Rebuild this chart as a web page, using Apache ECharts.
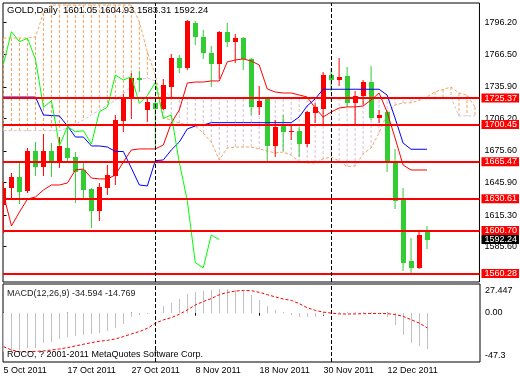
<!DOCTYPE html>
<html><head><meta charset="utf-8">
<script src="https://cdn.jsdelivr.net/npm/echarts@6/dist/echarts.min.js"></script>
<style>html,body{margin:0;padding:0;background:#fff}#c{width:520px;height:380px}</style>
</head><body><div id="c"></div>
<script>
// ---- data (bar index 0 = 5 Oct 2011, daily bars) ----
const dateTicks  = [0, 8, 16, 24, 32, 40, 48];
const dateLabels = ['5 Oct 2011','17 Oct 2011','27 Oct 2011','8 Nov 2011','18 Nov 2011','30 Nov 2011','12 Dec 2011'];
const monthStarts = [19, 41]; // 1 Nov 2011, 1 Dec 2011

const open  = [1624.8,1640.5,1651.4,1638.2,1675.9,1660.8,1675.9,1665.5,1678.7,1669.6,1657.7,1639.5,1619.4,1641.1,1652.4,1704.1,1724.5,1743.9,1714.1,1721.0,1714.8,1736.0,1762.7,1753.3,1796.2,1782.5,1767.4,1757.4,1787.2,1778.3,1782.1,1761.8,1716.7,1724.2,1680.6,1699.1,1693.4,1694.4,1682.1,1711.6,1715.1,1747.0,1742.3,1746.1,1720.4,1727.3,1740.2,1706.3,1712.5,1664.9,1629.5,1572.2,1565.3,1601.05];
const high  = [1646.4,1655.2,1666.2,1678.1,1684.3,1691.6,1683.4,1689.0,1696.9,1674.9,1664.0,1640.5,1645.2,1662.4,1709.4,1729.2,1749.2,1751.1,1725.1,1724.2,1743.0,1766.8,1765.8,1798.5,1798.1,1789.3,1774.3,1788.7,1795.6,1785.6,1783.0,1762.7,1736.7,1725.1,1704.7,1709.4,1699.1,1698.4,1713.5,1720.4,1750.1,1753.3,1762.7,1754.3,1732.3,1742.3,1755.5,1714.1,1714.1,1677.2,1640.5,1593.5,1599.7,1604.93];
const low   = [1598.5,1631.1,1625.7,1635.8,1652.1,1652.1,1651.4,1659.3,1664.0,1626.4,1629.5,1602.9,1610.0,1634.2,1643.6,1693.7,1705.4,1731.3,1703.1,1678.1,1714.1,1726.6,1748.6,1751.7,1775.2,1761.8,1735.5,1743.0,1773.6,1758.6,1751.7,1709.4,1709.4,1665.5,1670.2,1675.9,1686.0,1670.2,1679.6,1702.2,1701.0,1732.3,1736.7,1717.2,1700.0,1718.8,1704.7,1702.2,1656.1,1621.0,1563.0,1559.6,1564.3,1583.31];
const close = [1640.8,1651.4,1637.3,1675.9,1660.8,1675.9,1666.5,1680.3,1669.3,1656.1,1638.9,1619.4,1641.4,1653.0,1704.7,1726.1,1744.5,1742.3,1721.9,1714.8,1737.6,1762.7,1753.3,1798.1,1782.5,1767.4,1757.4,1787.7,1778.3,1781.5,1761.8,1716.7,1722.9,1680.6,1698.4,1693.7,1694.6,1682.1,1712.5,1716.7,1747.0,1742.3,1745.4,1720.4,1727.6,1740.2,1706.3,1709.4,1664.9,1628.8,1570.5,1565.8,1596.6,1592.24];

const tenkan = [1634.5,1605.1,1618.2,1630.4,1632.3,1638.9,1643.6,1643.6,1645.5,1657.7,1658.6,1650.2,1649.3,1649.3,1653.0,1665.2,1676.5,1677.5,1677.5,1677.5,1681.2,1701.9,1714.1,1739.5,1740.4,1740.4,1741.4,1741.4,1759.3,1761.1,1762.1,1760.2,1756.4,1733.9,1731.0,1730.1,1730.1,1728.2,1726.3,1716.0,1707.5,1712.2,1716.0,1717.0,1717.0,1717.9,1723.5,1730.1,1712.2,1687.8,1662.4,1657.7,1657.7,1657.7];
const kijun  = [1726.3,1726.3,1726.3,1726.3,1726.3,1709.4,1708.9,1708.5,1699.1,1688.7,1688.7,1680.3,1680.3,1679.3,1675.1,1675.1,1659.5,1643.6,1642.7,1666.5,1667.1,1676.5,1684.0,1696.3,1699.1,1700.0,1702.2,1702.2,1702.2,1702.2,1702.2,1702.2,1702.2,1702.2,1702.2,1702.2,1702.2,1707.5,1717.9,1724.5,1733.6,1733.6,1733.6,1733.6,1733.6,1733.6,1733.6,1733.6,1728.2,1706.6,1683.1,1677.2,1677.2,1677.2];
// Senkou spans (already shifted forward, index = bar slot, up to slot 59)
const spanA = [1781.8,1781.8,1781.8,1781.8,1782.8,1805.3,1812.8,1812.8,1812.8,1812.8,1812.8,1812.8,1812.8,1812.8,1812.8,1812.8,1812.8,1796.9,1768.7,1747.0,1706.6,1704.7,1701.9,1700.0,1699.1,1692.5,1684.0,1667.1,1678.4,1679.3,1679.3,1679.3,1677.5,1675.6,1673.7,1674.6,1671.8,1665.2,1664.3,1664.3,1668.1,1670.0,1666.2,1661.0,1661.5,1672.8,1678.4,1692.5,1710.4,1718.8,1720.7,1720.9,1723.1,1726.3,1731.3,1733.4,1735.7,1730.1,1728.2,1716.9];
const spanB = [1694.7,1694.7,1694.7,1694.7,1694.7,1694.7,1694.7,1694.7,1697.2,1700.9,1704.7,1709.4,1714.1,1718.8,1723.5,1729.2,1736.7,1742.3,1744.2,1741.4,1732.9,1725.7,1725.7,1725.7,1725.7,1725.7,1725.7,1725.7,1725.7,1725.7,1725.7,1725.7,1725.7,1725.7,1725.7,1725.7,1725.7,1725.7,1725.7,1725.7,1725.7,1725.7,1725.7,1725.7,1725.7,1725.7,1725.7,1725.7,1725.7,1725.7,1725.7,1725.7,1725.7,1725.7,1725.7,1725.7,1725.7,1708.5,1708.5,1708.5];

const macdMain   = [-37.4,-37.4,-35.8,-34.2,-33.5,-29.4,-27.8,-25.5,-22.9,-22.3,-21.3,-20.4,-19.1,-17.2,-14.9,-10.8,-3.7,-2.1,-1.2,0.8,6.5,9.7,12.9,18.1,19.4,21.0,22.0,22.6,22.6,22.0,20.4,17.1,12.3,6.2,2.6,0.3,-2.1,-4.4,-4.4,-4.4,-1.8,-0.5,0.6,0.3,0.5,0.6,0.3,-0.5,-4.4,-11.7,-21.3,-29.4,-31.6,-34.594];
const macdSignal = [-32.6,-35.8,-37.4,-37.4,-37.1,-36.7,-35.8,-34.8,-33.5,-31.9,-30.3,-28.7,-27.4,-26.5,-25.2,-22.9,-20.4,-18.1,-14.9,-10.1,-6.9,-4.7,-1.5,2.7,7.5,10.7,13.6,17.2,19.4,20.7,21.3,21.0,19.4,17.2,15.0,13.0,11.7,8.5,4.6,2.1,0.5,-0.5,-1.2,-1.3,-1.2,-1.0,-0.8,-0.8,-1.0,-1.8,-3.7,-6.9,-10.1,-14.769];

const levels     = [1725.37, 1700.45, 1665.47, 1630.61, 1600.70, 1560.28];
const priceTicks = [1796.20, 1766.50, 1735.90, 1706.20, 1675.60, 1645.90, 1615.30, 1585.60];
const macdTicks      = [27.447, 0, -47.3];
const macdTickLabels = ['27.447', '0.00', '-47.3'];

const symbolName = 'GOLD,Daily';
const copyright = 'ROCO, ? 2001-2011 MetaQuotes Software Corp.';

// ---- chart ----
const FONT = '"Liberation Sans", Arial, sans-serif';
const last = close.length - 1;
const titleText = symbolName + '  ' + [open[last], high[last], low[last], close[last]].map(v => v.toFixed(2)).join(' ');
const macdText = 'MACD(12,26,9) ' + macdMain[last].toFixed(3) + ' ' + macdSignal[last].toFixed(3);
const X_MIN = -0.0625, X_MAX = 59.5625;

function renderCandle(params, api) {
  const k = api.value(0), o = api.value(1), c = api.value(2), l = api.value(3), h = api.value(4);
  const pO = api.coord([k, o]), pC = api.coord([k, c]), pL = api.coord([k, l]), pH = api.coord([k, h]);
  const x = pO[0];
  const color = c >= o ? '#FF0000' : '#32CD32';
  const top = Math.round(Math.min(pO[1], pC[1]));
  const bot = Math.round(Math.max(pO[1], pC[1]));
  const bw = 5;
  return { type: 'group', children: [
    { type: 'line', shape: { x1: x, y1: Math.round(pH[1]), x2: x, y2: Math.round(pL[1]) }, style: { stroke: color, lineWidth: 1 } },
    { type: 'rect', shape: { x: Math.round(x - bw / 2), y: top, width: bw, height: Math.max(bot - top, 1) }, style: { fill: color } }
  ]};
}
function renderCloud(params, api) {
  const k = api.value(0), a = api.value(1), b = api.value(2);
  const pA = api.coord([k, a]), pB = api.coord([k, b]);
  return { type: 'line', shape: { x1: pA[0], y1: pA[1], x2: pB[0], y2: pB[1] },
    style: { stroke: a >= b ? '#F4A460' : '#D8BFD8', lineWidth: 1, lineDash: [3, 2] } };
}
function renderHist(params, api) {
  const k = api.value(0), v = api.value(1);
  const p0 = api.coord([k, 0]), p1 = api.coord([k, v]);
  return { type: 'line', shape: { x1: p0[0], y1: Math.round(p0[1]), x2: p1[0], y2: Math.round(p1[1]) },
    style: { stroke: '#C0C0C0', lineWidth: 1 } };
}
const lineS = (data, color, dash, z) => ({
  type: 'line', data, showSymbol: false, symbol: 'none', silent: true, z,
  lineStyle: { color, width: 1, type: dash || 'solid' }, xAxisIndex: 0, yAxisIndex: 0
});
const levelLabel = { show: true, position: 'end', distance: 2, color: '#fff', backgroundColor: '#FF0000',
  fontFamily: FONT, fontSize: 9, lineHeight: 9, padding: [0, 2, 0, 3], formatter: p => Number(p.value).toFixed(2) };

const chart = echarts.init(document.getElementById('c'), null, { renderer: 'canvas' });
chart.setOption({
  animation: false,
  backgroundColor: '#fff',
  textStyle: { fontFamily: FONT },
  title: [
    { text: titleText, left: 7, top: 5, padding: 0, textStyle: { fontSize: 9.5, fontWeight: 'normal', color: '#000', fontFamily: FONT } },
    { text: macdText, left: 7, top: 289, padding: 0, textStyle: { fontSize: 9, fontWeight: 'normal', color: '#222', fontFamily: FONT } },
    { text: copyright, left: 7, top: 350, padding: 0, textStyle: { fontSize: 9, fontWeight: 'normal', color: '#000', fontFamily: FONT } }
  ],
  grid: [
    { left: 3, top: 3, width: 477, height: 279, show: true, borderColor: '#000', borderWidth: 1, backgroundColor: '#fff' },
    { left: 3, top: 284, width: 477, height: 78, show: true, borderColor: '#000', borderWidth: 1, backgroundColor: '#fff' }
  ],
  xAxis: [
    { type: 'value', gridIndex: 0, min: X_MIN, max: X_MAX, show: false },
    { type: 'value', gridIndex: 1, min: X_MIN, max: X_MAX, position: 'bottom',
      axisLine: { show: false }, splitLine: { show: false },
      axisTick: { show: true, customValues: dateTicks, length: 3, lineStyle: { color: '#000' } },
      axisLabel: { show: true, customValues: dateTicks, align: 'left', margin: 4, fontSize: 9, color: '#000', fontFamily: FONT,
        formatter: v => dateLabels[dateTicks.indexOf(Math.round(v))] } }
  ],
  yAxis: [
    { type: 'value', gridIndex: 0, position: 'right', min: 1552.4, max: 1814.7, scale: true,
      axisLine: { show: false }, splitLine: { show: false },
      axisTick: { show: true, customValues: priceTicks, length: 3, lineStyle: { color: '#000' } },
      axisLabel: { show: true, customValues: priceTicks, margin: 5, fontSize: 9, color: '#000', fontFamily: FONT,
        formatter: v => Number(v).toFixed(2) } },
    { type: 'value', gridIndex: 1, position: 'right', min: -47.3, max: 27.447,
      axisLine: { show: false }, splitLine: { show: false },
      axisTick: { show: false },
      axisLabel: { show: true, customValues: macdTicks, margin: 5, fontSize: 9, color: '#000', fontFamily: FONT,
        formatter: v => {
          let best = 0;
          macdTicks.forEach((t, i) => { if (Math.abs(t - v) < Math.abs(macdTicks[best] - v)) best = i; });
          const tag = best === 0 ? 'a' : (best === macdTicks.length - 1 ? 'b' : 'm');
          return '{' + tag + '|' + macdTickLabels[best] + '}';
        },
        rich: { a: { padding: [14, 0, 0, 0], fontSize: 9, fontFamily: FONT, color: '#000' },
                b: { padding: [0, 0, 12, 0], fontSize: 9, fontFamily: FONT, color: '#000' },
                m: { fontSize: 9, fontFamily: FONT, color: '#000' } } } }
  ],
  series: [
    { type: 'custom', name: 'cloud', xAxisIndex: 0, yAxisIndex: 0, z: 1, silent: true, clip: true,
      data: spanA.map((a, i) => [i, a, spanB[i]]), renderItem: renderCloud },
    lineS(spanA.map((v, i) => [i, v]), '#F4A460', [3, 2], 2),
    lineS(spanB.map((v, i) => [i, v]), '#D8BFD8', [3, 2], 2),
    { type: 'custom', name: 'candles', xAxisIndex: 0, yAxisIndex: 0, z: 3, silent: true, clip: true,
      data: close.map((c, i) => [i, open[i], c, low[i], high[i]]), renderItem: renderCandle },
    lineS(tenkan.map((v, i) => [i, v]), '#FF0000', null, 4),
    lineS(kijun.map((v, i) => [i, v]), '#0000FF', null, 4),
    lineS(close.slice(26).map((v, i) => [i, v]), '#00FF00', null, 4),
    { type: 'line', name: 'levels', xAxisIndex: 0, yAxisIndex: 0, data: [], z: 5, silent: true,
      markLine: { silent: true, symbol: 'none', animation: false, precision: 2,
        lineStyle: { color: '#FF0000', width: 2, type: 'solid' }, label: levelLabel,
        data: levels.map(v => ({ yAxis: v })).concat(monthStarts.map(k => ({ xAxis: k, lineStyle: { color: '#000', width: 1, type: [4, 2] }, label: { show: false } }))) } },
    { type: 'line', name: 'bid', xAxisIndex: 0, yAxisIndex: 0, data: [], z: 6, silent: true,
      markLine: { silent: true, symbol: 'none', animation: false,
        lineStyle: { color: 'rgba(0,0,0,0)', width: 1, type: 'solid' },
        label: Object.assign({}, levelLabel, { backgroundColor: '#000' }),
        data: [{ yAxis: close[last] }] } },
    { type: 'custom', name: 'macd', xAxisIndex: 1, yAxisIndex: 1, z: 2, silent: true, clip: true,
      data: macdMain.map((v, i) => [i, v]), renderItem: renderHist },
    { type: 'line', name: 'signal', xAxisIndex: 1, yAxisIndex: 1, z: 3, silent: true, showSymbol: false, symbol: 'none',
      data: macdSignal.map((v, i) => [i, v]), lineStyle: { color: '#FF0000', width: 1, type: [3, 2] },
      markLine: { silent: true, symbol: 'none', animation: false, label: { show: false },
        lineStyle: { color: '#000', width: 1, type: [4, 2] },
        data: monthStarts.map(k => ({ xAxis: k })) } }
  ]
});
</script></body></html>
